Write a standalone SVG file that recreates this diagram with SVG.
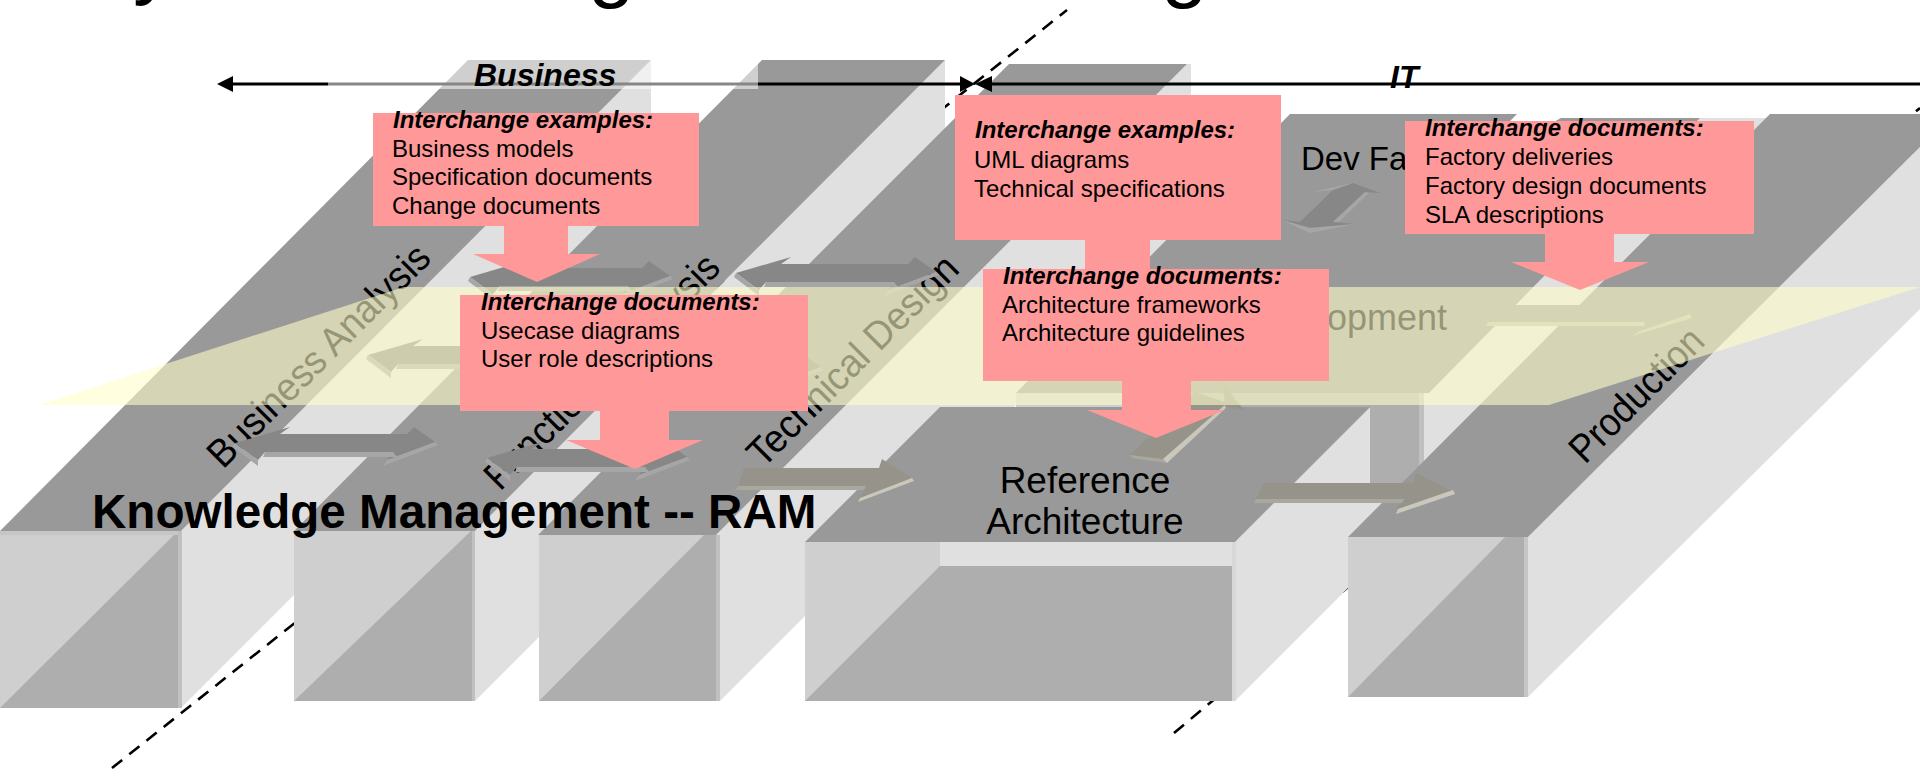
<svg xmlns="http://www.w3.org/2000/svg" xmlns:xlink="http://www.w3.org/1999/xlink" width="1920" height="773" viewBox="0 0 1920 773">
<style>
text{font-family:"Liberation Sans",Arial,sans-serif;fill:#000}
.top{fill:#999}.side{fill:#e0e0e0}.fl{fill:#cfcfcf}.fd{fill:#aeaeae}.strip{fill:#c0c0c0}.tstrip{fill:#c6c6c6}
.lab{font-size:36px}
.cb{font-size:24px;font-weight:bold;font-style:italic}
.c{font-size:24px}
.pink{fill:#ff9999}
.dash{fill:none;stroke:#000;stroke-width:2.6;stroke-dasharray:13 9}
.ln{fill:none;stroke:#000;stroke-width:3}
.am{fill:#878787}.ab{fill:#a6a6a6}
.sm{fill:#96938a}.sb{fill:#c9c8ba}.sc{fill:#aaa89e}
</style>
<defs>
<g id="dbl">
<path class="am" d="M-102,-2L-47,-18L-57,-11L70,-11L77,-18L98,-3L50,15L56,7L-72,7L-79,15Z"/>
<path class="ab" d="M98,-3L101,0L46,21L50,15ZM56,7L60,12L-74,12L-72,7ZM-102,-2L-79,15L-79,21L-104,2Z"/>
</g>
</defs>
<rect width="1920" height="773" fill="#fff"/>
<g id="title">
<text x="133" y="-11" font-size="84">y</text>
<text x="588" y="-8" font-size="84">g</text>
<text x="1161" y="-8" font-size="84">g</text>
</g>
<g id="dashed-dividers">
<path class="dash" d="M112,768L1067,10"/>
<path class="dash" d="M1174,733L1920,108"/>
</g>
<g id="block-business-analysis">
<polygon class="side" points="181,531 181,708 651,238 651,60"/>
<polygon class="top" points="0,531 181,531 651,60 468,60"/>
<rect class="fl" x="0" y="531" width="181" height="177"/>
<polygon class="fd" points="0,708 178,531 181,531 181,708"/>
<rect class="strip" x="178" y="531" width="4" height="177"/>
<rect class="tstrip" x="0" y="531" width="178" height="4"/>
<text class="lab" transform="translate(223 470) rotate(-45) scale(1.03 1.1)">Business Analysis</text>
</g>
<g id="block-functional-analysis">
<polygon class="side" points="475,531 475,701 945,231 945,60"/>
<polygon class="top" points="294,531 475,531 945,60 762,60"/>
<rect class="fl" x="294" y="531" width="181" height="170"/>
<polygon class="fd" points="294,701 471,531 475,531 475,701"/>
<rect class="strip" x="472" y="531" width="3" height="170"/>
<text class="lab" transform="translate(500 492) rotate(-45) scale(1.02 1.1)">Functional Analysis</text>
</g>
<g id="block-technical-design">
<polygon class="side" points="716,535 716,701 720,701 1191,230 1191,64 1187,64"/>
<polygon class="top" points="538,535 716,535 1187,64 1009,64"/>
<rect class="fl" x="539" y="535" width="178" height="166"/>
<polygon class="fd" points="539,701 704,535 717,535 717,701"/>
<rect class="strip" x="716" y="535" width="4" height="166"/>
<text class="lab" transform="translate(763 469) rotate(-45) scale(1.03 1.1)">Technical Design</text>
</g>
<g id="block-dev-factory">
<rect class="fl" x="1016" y="393" width="140" height="40"/>
<rect class="fd" x="1156" y="393" width="263" height="102"/>
<rect class="strip" x="1419" y="393" width="5" height="102"/>
<rect class="side" x="1370" y="495" width="30" height="30"/>
<polygon class="side" points="1424,393 1429,393 1700,118 1768,118 1400,486 1424,486"/>
<polygon class="top" points="1290,114 1517,114 1507,124 1550,124 1561,118 1700,118 1429,393 1016,393"/>
<text x="1301" y="170" font-size="33">Dev Factory</text>
<text x="1447" y="330" font-size="36" text-anchor="end">Development</text>
</g>
<g id="block-reference-architecture">
<polygon class="side" points="1235,542 1235,701 1370,566 1370,407"/>
<polygon class="top" points="805,542 1235,542 1370,407 940,407"/>
<rect class="fl" x="805" y="542" width="430" height="159"/>
<rect class="side" x="940" y="542" width="295" height="24"/>
<polygon class="fd" points="805,701 940,566 1235,566 1235,701"/>
<rect x="1232" y="542" width="4" height="159" fill="#d8d8d8"/>
<text x="1085" y="493" font-size="37" text-anchor="middle">Reference</text>
<text x="1085" y="534" font-size="37" text-anchor="middle">Architecture</text>
</g>
<g id="block-production">
<polygon class="side" points="1528,537 1528,697 1920,309 1920,147"/>
<polygon class="top" points="1348,537 1528,537 1920,147 1920,114 1770,114"/>
<rect class="fl" x="1348" y="537" width="180" height="160"/>
<polygon class="fd" points="1348,697 1505,537 1528,537 1528,697"/>
<rect x="1524" y="537" width="4" height="160" fill="#c6c6c6"/>
<text class="lab" transform="translate(1585 465) rotate(-45) scale(1 1.1)">Production</text>
</g>
<g id="connectors">
<use xlink:href="#dbl" href="#dbl" x="337" y="445"/>
<use xlink:href="#dbl" href="#dbl" x="589" y="460"/>
<use xlink:href="#dbl" href="#dbl" x="572" y="279"/>
<use xlink:href="#dbl" href="#dbl" x="838" y="275"/>
<use xlink:href="#dbl" href="#dbl" x="470" y="357"/>
<use xlink:href="#dbl" href="#dbl" x="723" y="370"/>
<polygon class="sm" points="744,468 879,468 882,459 912,478 860,498 866,486 738,486"/>
<polygon class="sc" points="738,486 866,486 864,490 736,490"/>
<polygon class="sb" points="912,478 914,481 858,502 860,498"/>
<polygon class="sm" points="1264,483 1413,483 1416,473 1453,492 1396,509 1404,499 1256,499"/>
<polygon class="sc" points="1256,499 1404,499 1402,503 1254,503"/>
<polygon class="sb" points="1453,490 1455,494 1396,514 1398,509"/>
<polygon class="am" points="1333,190 1353,183 1380,193 1365,192 1333,222 1355,224 1310,228 1282,220 1300,222"/>
<polygon class="ab" points="1365,192 1369,193 1339,222 1333,222"/>
<polygon class="ab" points="1282,220 1310,228 1355,224 1310,233"/>
<polygon class="ab" points="1313,192 1333,190 1353,183 1330,188"/>
<polygon fill="#999" points="1498,305 1650,305 1653,296 1690,315 1640,332 1645,322 1488,322"/>
<polygon fill="#b8b8ac" points="1488,322 1645,322 1644,326 1486,326"/>
<polygon fill="#b8b8ac" points="1690,314 1692,318 1632,336 1640,331"/>
<polygon class="sm" points="1130,455 1195,392 1227,403 1163,459"/>
<polygon class="sc" points="1130,455 1163,459 1167,463 1132,458"/>
<polygon class="sb" points="1163,459 1227,403 1229,405 1167,463"/>
<polygon class="sm" points="1223,383 1238,403 1245,410 1225,407"/>
</g>
<polygon id="yellow-plane" points="39,405 404,287 1920,287 1549,405" fill="#ffffc8" fill-opacity=".59"/>
<g id="span-arrows">
<path class="ln" d="M230,84H965M990,84H1920"/>
<polygon points="217,84 233,76 233,92"/>
<polygon points="975,84 960,76 960,92"/>
<polygon points="975,84 992,76 992,92"/>
</g>
<rect id="business-band" x="328" y="60" width="430" height="29" fill="#fff" fill-opacity=".53"/>
<text x="474" y="86" font-size="32" font-weight="bold" font-style="italic">Business</text>
<text x="1390" y="88" font-size="32" font-weight="bold" font-style="italic">IT</text>
<g id="callout-1">
<polygon class="pink" points="373,113 699,113 699,226 568,226 568,254 600,254 537,282 473,254 504,254 504,226 373,226"/>
<text class="cb" x="393" y="128">Interchange examples:</text>
<text class="c" x="392" y="157">Business models</text>
<text class="c" x="392" y="185">Specification documents</text>
<text class="c" x="392" y="214">Change documents</text>
</g>
<g id="callout-2">
<polygon class="pink" points="460,295 808,295 808,411 669,411 669,440 703,440 635,469 566,440 600,440 600,411 460,411"/>
<text class="cb" x="481" y="310">Interchange documents:</text>
<text class="c" x="481" y="339">Usecase diagrams</text>
<text class="c" x="481" y="367">User role descriptions</text>
</g>
<g id="callout-3">
<polygon class="pink" points="955,95 1281,95 1281,240 1150,240 1150,280 1085,280 1085,240 955,240"/>
<text class="cb" x="975" y="138">Interchange examples:</text>
<text class="c" x="974" y="168">UML diagrams</text>
<text class="c" x="974" y="197">Technical specifications</text>
</g>
<g id="callout-4">
<polygon class="pink" points="983,269 1329,269 1329,381 1191,381 1191,410 1225,410 1156,438 1087,410 1122,410 1122,381 983,381"/>
<text class="cb" x="1003" y="284">Interchange documents:</text>
<text class="c" x="1002" y="313">Architecture frameworks</text>
<text class="c" x="1002" y="341">Architecture guidelines</text>
</g>
<g id="callout-5">
<polygon class="pink" points="1405,121 1754,121 1754,234 1614,234 1614,262 1649,262 1580,290 1511,262 1545,262 1545,234 1405,234"/>
<text class="cb" x="1425" y="136">Interchange documents:</text>
<text class="c" x="1425" y="165">Factory deliveries</text>
<text class="c" x="1425" y="194">Factory design documents</text>
<text class="c" x="1425" y="223">SLA descriptions</text>
</g>
<text id="knowledge-management" x="92" y="528" font-size="47.6" font-weight="bold">Knowledge Management -- RAM</text>
</svg>
